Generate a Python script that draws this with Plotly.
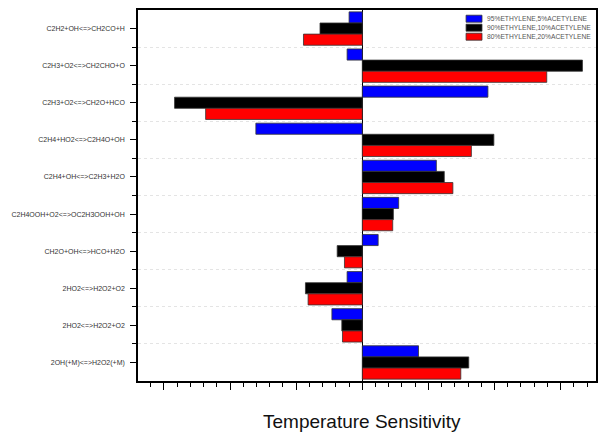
import plotly.graph_objects as go

# ---- data ----
reactions = [
    "C2H2+OH&lt;=&gt;CH2CO+H",
    "C2H3+O2&lt;=&gt;CH2CHO+O",
    "C2H3+O2&lt;=&gt;CH2O+HCO",
    "C2H4+HO2&lt;=&gt;C2H4O+OH",
    "C2H4+OH&lt;=&gt;C2H3+H2O",
    "C2H4OOH+O2&lt;=&gt;OC2H3OOH+OH",
    "CH2O+OH&lt;=&gt;HCO+H2O",
    "2HO2&lt;=&gt;H2O2+O2",
    "2HO2&lt;=&gt;H2O2+O2",
    "2OH(+M)&lt;=&gt;H2O2(+M)",
]
series_names = [
    "95%ETHYLENE,5%ACETYLENE",
    "90%ETHYLENE,10%ACETYLENE",
    "80%ETHYLENE,20%ACETYLENE",
]
eth95 = [-0.20, -0.23, 1.90, -1.61, 1.12, 0.55, 0.24, -0.23, -0.46, 0.85]
eth90 = [-0.64, 3.33, -2.84, 1.99, 1.24, 0.47, -0.38, -0.86, -0.31, 1.61]
eth80 = [-0.89, 2.79, -2.37, 1.65, 1.37, 0.46, -0.27, -0.82, -0.30, 1.49]
series_values = [eth95, eth90, eth80]
colors = ["#0000FF", "#000000", "#FF0000"]

positions = list(range(len(reactions)))

fig = go.Figure()
for name, vals, col in zip(series_names, series_values, colors):
    fig.add_trace(go.Bar(
        y=positions, x=vals, name=name, orientation="h",
        marker=dict(color=col, line=dict(color="#333333", width=0.8)),
        showlegend=False,
    ))

# manual compact legend (top right, inside plot)
shapes = []
annotations = []
leg_y = [0.9765, 0.9523, 0.928]
for name, col, yy in zip(series_names, colors, leg_y):
    shapes.append(dict(type="rect", xref="paper", yref="paper",
                       x0=(467.5 - 138) / 460, x1=(483.5 - 138) / 460,
                       y0=yy - 3.5 / 371, y1=yy + 3.5 / 371,
                       fillcolor=col, line=dict(color="#333333", width=0.8)))
    annotations.append(dict(xref="paper", yref="paper", x=(486.5 - 138) / 460, y=yy,
                            xanchor="left", yanchor="middle", showarrow=False,
                            text=name, font=dict(family="Liberation Sans, Arial", size=6.7, color="#555555")))

annotations.append(dict(xref="paper", yref="paper", x=(363 - 138) / 460, y=(381 - 421) / 371,
                        xanchor="center", yanchor="middle", showarrow=False,
                        text="Temperature Sensitivity",
                        font=dict(family="Liberation Sans, Arial", size=19, color="#111111")))

fig.update_layout(
    width=601, height=432,
    margin=dict(l=138, r=3, t=10, b=51),
    paper_bgcolor="white", plot_bgcolor="white",
    barmode="group", bargap=0.1, bargroupgap=0.0,
    shapes=shapes, annotations=annotations,
    font=dict(family="Liberation Sans, Arial", color="#333333"),
)
fig.update_xaxes(
    range=[-3.393, 3.535], showticklabels=False,
    showline=True, mirror=True, linecolor="black", linewidth=1.5,
    ticks="outside", ticklen=7, tickwidth=1, tickcolor="black",
    tick0=0, dtick=1, showgrid=False,
    zeroline=True, zerolinecolor="black", zerolinewidth=1.2,
    minor=dict(ticks="outside", ticklen=4, tickwidth=1, tickcolor="black", dtick=0.2, showgrid=False),
)
fig.update_yaxes(
    range=[9.5, -0.5], tickmode="array", tickvals=positions, ticktext=reactions,
    tickfont=dict(family="Liberation Sans, Arial", size=7, color="#333333"),
    showline=True, mirror=True, linecolor="black", linewidth=1.5,
    ticks="outside", ticklen=6, tickwidth=1, tickcolor="black",
    ticklabelstandoff=4,
    showgrid=False, zeroline=False,
    minor=dict(ticks="outside", ticklen=4, tickwidth=1, tickcolor="black",
               tickmode="array", tickvals=[p + 0.5 for p in positions[:-1]],
               showgrid=True, gridcolor="#e4e4e4", griddash="dot", gridwidth=1),
)

fig.write_html("out.html")
